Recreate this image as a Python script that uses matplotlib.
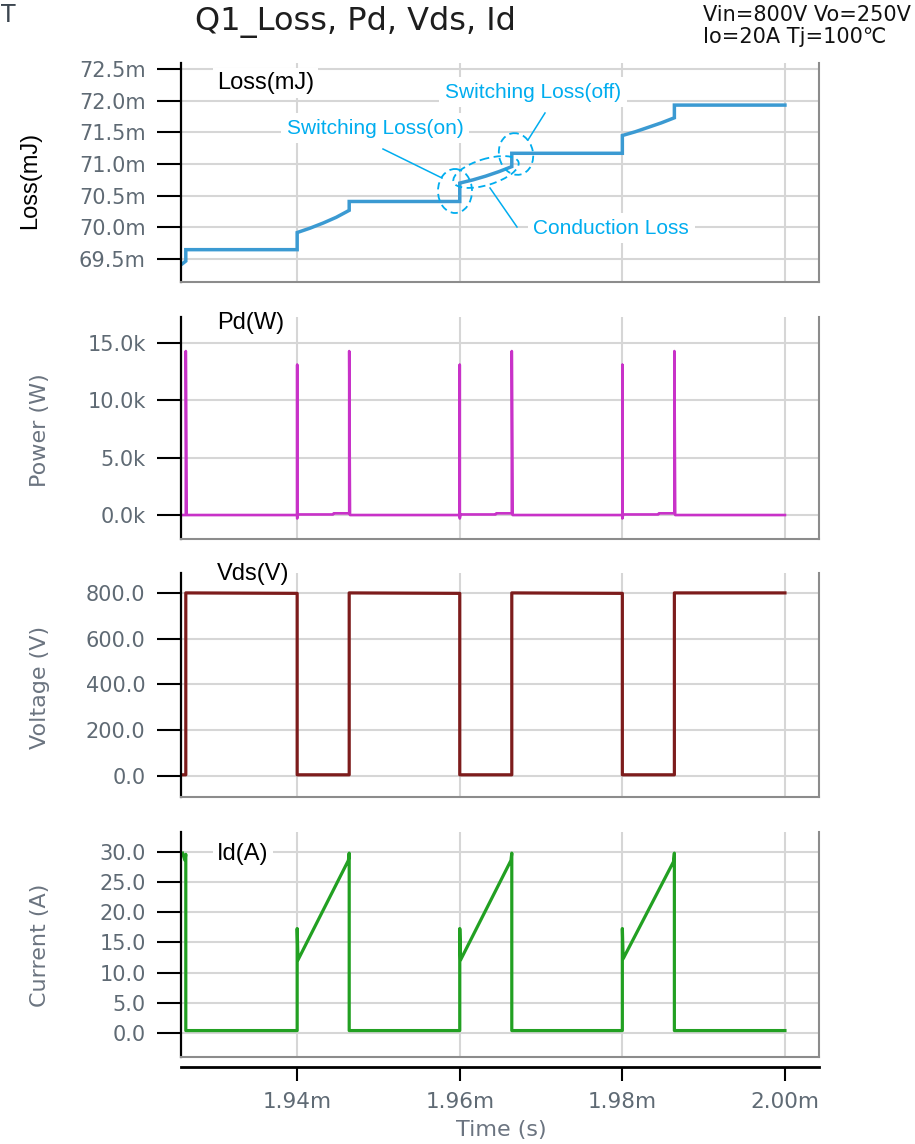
import matplotlib
matplotlib.use('Agg')
import matplotlib.pyplot as plt
from matplotlib.patches import Ellipse
from matplotlib.ticker import FuncFormatter, FixedLocator

# ---------------- data (time in ms) ----------------
loss_t = [1.9259, 1.9263, 1.9263,
          1.9400, 1.9400, 1.9416, 1.9432, 1.9448, 1.9464, 1.9464,
          1.9600, 1.9600, 1.9616, 1.9632, 1.9648, 1.9664, 1.9664,
          1.9800, 1.9800, 1.9816, 1.9832, 1.9848, 1.9864, 1.9864,
          2.0000]
loss_v = [69.43, 69.47, 69.65,
          69.65, 69.92, 69.99, 70.07, 70.16, 70.27, 70.41,
          70.41, 70.70, 70.75, 70.81, 70.88, 70.96, 71.17,
          71.17, 71.45, 71.51, 71.58, 71.65, 71.73, 71.93,
          71.93]

pd_t = [1.9259, 1.9263, 1.9263, 1.9264,
        1.9400, 1.9400, 1.9400, 1.9401, 1.9444, 1.9445, 1.9464, 1.9464, 1.9465,
        1.9600, 1.9600, 1.9600, 1.9601, 1.9644, 1.9645, 1.9664, 1.9664, 1.9665,
        1.9800, 1.9800, 1.9800, 1.9801, 1.9844, 1.9845, 1.9864, 1.9864, 1.9865,
        2.0000]
pd_v = [0.0, 0.0, 14.3, 0.0,
        0.0, 13.1, -0.3, 0.05, 0.05, 0.15, 0.15, 14.3, 0.0,
        0.0, 13.1, -0.3, 0.05, 0.05, 0.15, 0.15, 14.3, 0.0,
        0.0, 13.1, -0.3, 0.05, 0.05, 0.15, 0.15, 14.3, 0.0,
        0.0]

vds_t = [1.9259, 1.9263, 1.9263,
         1.9400, 1.9400, 1.9464, 1.9464,
         1.9600, 1.9600, 1.9664, 1.9664,
         1.9800, 1.9800, 1.9864, 1.9864,
         2.0000]
vds_v = [5, 5, 800,
         798, 5, 5, 800,
         798, 5, 5, 800,
         798, 5, 5, 800,
         800]

id_t = [1.9259, 1.9262, 1.9263, 1.9263,
        1.9400, 1.9400, 1.9401, 1.9463, 1.9464, 1.9464,
        1.9600, 1.9600, 1.9601, 1.9663, 1.9664, 1.9664,
        1.9800, 1.9800, 1.9801, 1.9863, 1.9864, 1.9864,
        2.0000]
id_v = [29.8, 28.6, 29.6, 0.4,
        0.4, 17.3, 12.1, 28.6, 29.8, 0.4,
        0.4, 17.3, 12.1, 28.6, 29.8, 0.4,
        0.4, 17.3, 12.3, 28.4, 29.8, 0.4,
        0.4]

loss_ticks = [69.5, 70.0, 70.5, 71.0, 71.5, 72.0, 72.5]
pd_ticks = [0.0, 5.0, 10.0, 15.0]
vds_ticks = [0.0, 200.0, 400.0, 600.0, 800.0]
id_ticks = [0.0, 5.0, 10.0, 15.0, 20.0, 25.0, 30.0]
time_ticks = [1.94, 1.96, 1.98, 2.00]

# ---------------- layout ----------------
W, H = 915, 1144
fig = plt.figure(figsize=(W / 100, H / 100), dpi=100)
fig.patch.set_facecolor('white')

XLIM = (1.92571, 2.00419)
TICK_COLOR = '#5f6a74'
LABEL_COLOR = '#6b7480'
GRID_COLOR = '#d6d6d6'
FRAME_COLOR = '#8c8c8c'


def px_axes(l, t, r, b):
    return fig.add_axes([l / W, 1 - b / H, (r - l) / W, (b - t) / H])


def style_panel(ax, ylim, ticks, fmt):
    ax.set_xlim(*XLIM)
    ax.set_ylim(*ylim)
    ax.xaxis.set_major_locator(FixedLocator(time_ticks))
    ax.yaxis.set_major_locator(FixedLocator(ticks))
    ax.yaxis.set_major_formatter(FuncFormatter(fmt))
    ax.tick_params(axis='x', length=0, labelbottom=False)
    ax.tick_params(axis='y', length=17.5, width=1.5, color='black', pad=8,
                   labelsize=15, labelcolor=TICK_COLOR)
    for lab in ax.get_yticklabels():
        lab.set_family('DejaVu Sans')
    ax.grid(True, color=GRID_COLOR, lw=1.5)
    ax.set_axisbelow(True)
    ax.spines['top'].set_visible(False)
    ax.spines['left'].set_color('black')
    ax.spines['left'].set_linewidth(1.6)
    for s in ('right', 'bottom'):
        ax.spines[s].set_color(FRAME_COLOR)
        ax.spines[s].set_linewidth(1.5)


ax_loss = px_axes(181, 63, 819, 282)
style_panel(ax_loss, (69.14, 72.594), loss_ticks, lambda v, p: f'{v:.1f}m')
ax_loss.plot(loss_t, loss_v, color='#3b9ad2', lw=2.5, solid_joinstyle='miter')

ax_pd = px_axes(181, 317, 819, 539)
style_panel(ax_pd, (-2.09, 17.27), pd_ticks, lambda v, p: f'{v:.1f}k')
ax_pd.plot(pd_t, pd_v, color='#c832c8', lw=1.9)

ax_vds = px_axes(181, 573, 819, 797)
style_panel(ax_vds, (-92, 887), vds_ticks, lambda v, p: f'{v:.1f}')
ax_vds.plot(vds_t, vds_v, color='#7d1c1c', lw=2.3)

ax_id = px_axes(181, 832, 819, 1057)
style_panel(ax_id, (-3.98, 33.3), id_ticks, lambda v, p: f'{v:.1f}')
ax_id.plot(id_t, id_v, color='#22a022', lw=2.3)

# separate time axis
ax_x = px_axes(181, 1066, 819, 1067)
ax_x.set_xlim(*XLIM)
ax_x.patch.set_visible(False)
ax_x.set_yticks([])
for s in ('top', 'left', 'right'):
    ax_x.spines[s].set_visible(False)
ax_x.spines['bottom'].set_color('black')
ax_x.spines['bottom'].set_linewidth(2)
ax_x.xaxis.set_major_locator(FixedLocator(time_ticks))
ax_x.xaxis.set_major_formatter(FuncFormatter(lambda v, p: f'{v:.2f}m'))
ax_x.tick_params(axis='x', length=10, width=1.5, color='black', pad=8,
                 labelsize=15.5, labelcolor=TICK_COLOR)

# ---------------- overlay (pixel coordinates) ----------------
ov = fig.add_axes([0, 0, 1, 1])
ov.set_xlim(0, W)
ov.set_ylim(H, 0)
ov.axis('off')
ov.patch.set_visible(False)

ov.text(1, 15, 'T', fontsize=17, color='#3c4650', ha='left', va='center',
        family='DejaVu Sans')
ov.text(355, 22, 'Q1_Loss, Pd, Vds, Id', fontsize=23, color='#1e1e1e',
        ha='center', va='center', family='DejaVu Sans')
ov.text(703, 15, 'Vin=800V Vo=250V', fontsize=15, color='#111111',
        ha='left', va='center', family=['DejaVu Sans', 'Noto Sans CJK JP'])
ov.text(703, 37, 'Io=20A Tj=100℃', fontsize=15, color='#111111',
        ha='left', va='center', family=['DejaVu Sans', 'Noto Sans CJK JP'])

# axis titles
ov.text(30, 180, 'Loss(mJ)', rotation=90, fontsize=17, color='black',
        ha='center', va='center', family='Liberation Sans')
ov.text(40, 430, 'Power (W)', rotation=90, fontsize=16, color=LABEL_COLOR,
        ha='center', va='center', family='DejaVu Sans')
ov.text(40, 687, 'Voltage (V)', rotation=90, fontsize=16, color=LABEL_COLOR,
        ha='center', va='center', family='DejaVu Sans')
ov.text(40, 945, 'Current (A)', rotation=90, fontsize=16, color=LABEL_COLOR,
        ha='center', va='center', family='DejaVu Sans')
ov.text(501, 1130, 'Time (s)', fontsize=16, color=LABEL_COLOR,
        ha='center', va='center', family='DejaVu Sans')

# panel labels
wbox = dict(facecolor='white', edgecolor='none', pad=3)
for (y, s) in [(83, 'Loss(mJ)'), (323, 'Pd(W)'), (574, 'Vds(V)'), (854, 'Id(A)')]:
    ov.text(217, y, s, fontsize=17, color='black', ha='left', va='center',
            family='Liberation Sans', bbox=wbox)

# annotations
BLUE = '#00adef'
bbox_b = dict(facecolor='white', edgecolor='none', pad=4)
ov.text(533, 92, 'Switching Loss(off)', fontsize=15, color=BLUE, ha='center',
        va='center', family='Liberation Sans', bbox=bbox_b)
ov.text(375, 128, 'Switching Loss(on)', fontsize=15, color=BLUE, ha='center',
        va='center', family='Liberation Sans', bbox=bbox_b)
ov.text(611, 228, 'Conduction Loss', fontsize=15, color=BLUE, ha='center',
        va='center', family='Liberation Sans', bbox=bbox_b)

ov.plot([383, 442], [149, 178], color=BLUE, lw=1.1)
ov.plot([490, 517], [188, 227], color=BLUE, lw=1.1)
ov.plot([528, 545], [140, 113], color=BLUE, lw=1.1)

for (cx, cy, w, h, ang) in [(455, 191, 34, 44, 0), (486, 172, 68, 26, -17),
                            (516, 154, 34, 42, -12)]:
    ov.add_patch(Ellipse((cx, cy), w, h, angle=ang, fill=False,
                         edgecolor=BLUE, lw=1.3, linestyle=(0, (4, 2.5))))

fig.savefig('out.png', dpi=100)
